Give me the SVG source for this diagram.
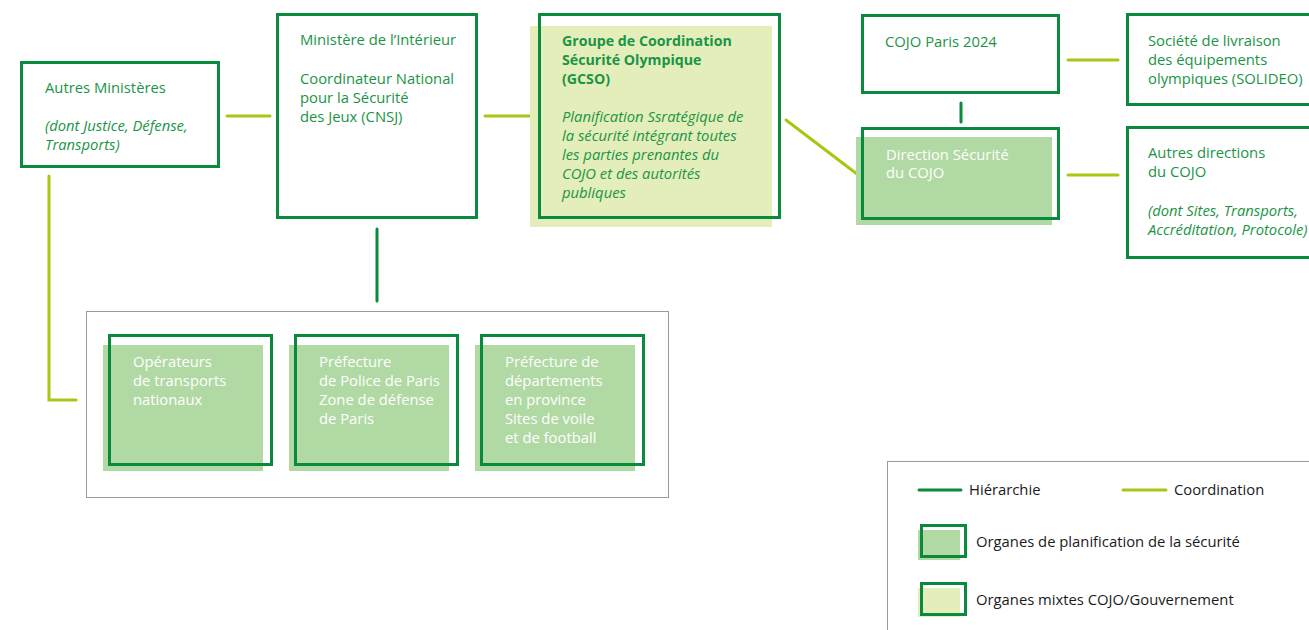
<svg xmlns="http://www.w3.org/2000/svg" width="1309" height="630" viewBox="0 0 1309 630">
<style>
.o{fill:none;stroke:#0a8a3c;stroke-width:3}
.h{stroke:#0a8a3c;stroke-width:3;fill:none;stroke-linecap:round}
.c{stroke:#a6c814;stroke-width:3;fill:none;stroke-linecap:round}
.fg{fill:#b1d9a4}
.fl{fill:#e4eebb}
text{font-family:"Open Sans","Liberation Sans",sans-serif;font-size:14.8px;fill:#1a9446}
.w{fill:#ffffff}
.b{font-weight:bold;font-size:14.2px}
.i{font-style:italic}
.k{fill:#1a1a1a}
</style>
<rect width="1309" height="630" fill="#ffffff"/>
<g id="connectors">
<line class="c" x1="227" y1="116" x2="270" y2="116"/>
<line class="c" x1="485" y1="116" x2="532" y2="116"/>
<line class="c" x1="786" y1="120" x2="857" y2="174"/>
<line class="h" x1="961" y1="103" x2="961" y2="122"/>
<line class="c" x1="1068" y1="60" x2="1118" y2="60"/>
<line class="c" x1="1068" y1="175" x2="1118" y2="175"/>
<line class="h" x1="377" y1="229" x2="377" y2="301"/>
<polyline class="c" points="49,176 49,400 76,400"/>
</g>
<g id="autres-ministeres">
<rect class="o" x="21.5" y="62.5" width="197" height="104"/>
<text x="45" y="93">Autres Ministères</text>
<text class="i" x="45" y="131">(dont Justice, Défense,</text>
<text class="i" x="45" y="150">Transports)</text>
</g>
<g id="ministere-interieur">
<rect class="o" x="277.5" y="14.5" width="199" height="203"/>
<text x="300" y="45">Ministère de l’Intérieur</text>
<text x="300" y="84">Coordinateur National</text>
<text x="300" y="103">pour la Sécurité</text>
<text x="300" y="122">des Jeux (CNSJ)</text>
</g>
<g id="gcso">
<rect class="fl" x="530" y="26" width="242" height="201"/>
<rect class="o" x="539.5" y="14.5" width="240" height="203"/>
<text class="b" x="562" y="46">Groupe de Coordination</text>
<text class="b" x="562" y="65">Sécurité Olympique</text>
<text class="b" x="562" y="84">(GCSO)</text>
<text class="i" x="562" y="122">Planification Ssratégique de</text>
<text class="i" x="562" y="141">la sécurité intégrant toutes</text>
<text class="i" x="562" y="160">les parties prenantes du</text>
<text class="i" x="562" y="179">COJO et des autorités</text>
<text class="i" x="562" y="198">publiques</text>
</g>
<g id="cojo">
<rect class="o" x="862.5" y="15.5" width="196" height="77"/>
<text x="885" y="47">COJO Paris 2024</text>
</g>
<g id="direction-securite">
<rect class="fg" x="856" y="137" width="196" height="88"/>
<rect class="o" x="862.5" y="128.5" width="196" height="90"/>
<text class="w" x="886" y="160">Direction Sécurité</text>
<text class="w" x="886" y="178">du COJO</text>
</g>
<g id="solideo">
<rect class="o" x="1127.5" y="14.5" width="190" height="90"/>
<text x="1148" y="46">Société de livraison</text>
<text x="1148" y="65">des équipements</text>
<text x="1148" y="84">olympiques (SOLIDEO)</text>
</g>
<g id="autres-directions">
<rect class="o" x="1127.5" y="127.5" width="190" height="130"/>
<text x="1148" y="158">Autres directions</text>
<text x="1148" y="177">du COJO</text>
<text class="i" x="1148" y="216">(dont Sites, Transports,</text>
<text class="i" x="1148" y="235">Accréditation, Protocole)</text>
</g>
<g id="operateurs-group">
<rect x="86.5" y="311.5" width="582" height="186" fill="none" stroke="#9a9a9a" stroke-width="1"/>
</g>
<g id="operateurs">
<rect class="fg" x="103" y="345" width="160" height="126"/>
<rect class="o" x="109.5" y="335.5" width="162" height="129"/>
<text class="w" x="133" y="367">Opérateurs</text>
<text class="w" x="133" y="386">de transports</text>
<text class="w" x="133" y="405">nationaux</text>
</g>
<g id="prefecture-police">
<rect class="fg" x="289" y="345" width="160" height="126"/>
<rect class="o" x="295.5" y="335.5" width="162" height="129"/>
<text class="w" x="319" y="367">Préfecture</text>
<text class="w" x="319" y="386">de Police de Paris</text>
<text class="w" x="319" y="405">Zone de défense</text>
<text class="w" x="319" y="424">de Paris</text>
</g>
<g id="prefecture-departements">
<rect class="fg" x="475" y="345" width="160" height="126"/>
<rect class="o" x="481.5" y="335.5" width="162" height="129"/>
<text class="w" x="505" y="367">Préfecture de</text>
<text class="w" x="505" y="386">départements</text>
<text class="w" x="505" y="405">en province</text>
<text class="w" x="505" y="424">Sites de voile</text>
<text class="w" x="505" y="443">et de football</text>
</g>
<g id="legend">
<rect x="887.5" y="461.5" width="430" height="180" fill="#ffffff" stroke="#9a9a9a" stroke-width="1"/>
<line class="h" x1="919" y1="490" x2="961" y2="490"/>
<text class="k" x="969" y="495">Hiérarchie</text>
<line class="c" x1="1123" y1="490" x2="1166" y2="490"/>
<text class="k" x="1174" y="495">Coordination</text>
<rect class="fg" x="918" y="530" width="42" height="30"/>
<rect class="o" x="921.5" y="525.5" width="44" height="31"/>
<text class="k" x="976" y="547">Organes de planification de la sécurité</text>
<rect class="fl" x="918" y="588" width="42" height="29"/>
<rect class="o" x="921.5" y="583.5" width="44" height="31"/>
<text class="k" x="976" y="605">Organes mixtes COJO/Gouvernement</text>
</g>
</svg>
